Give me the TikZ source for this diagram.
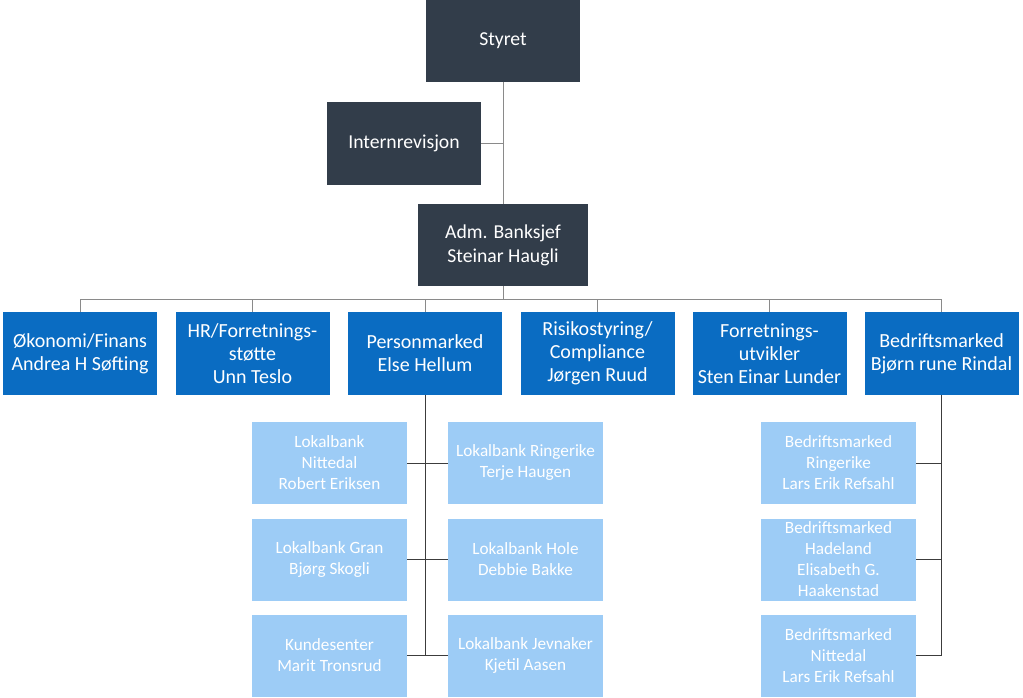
\documentclass[tikz,border=0pt]{standalone}
\usepackage{fontspec}
\setmainfont{Carlito}
\definecolor{darkbox}{HTML}{323D4A}
\definecolor{midbox}{HTML}{0A6CC2}
\definecolor{lightbox}{HTML}{9DCCF6}
\definecolor{lineg}{HTML}{8A8A8A}
\definecolor{lined}{HTML}{3C3C3C}
\tikzset{
  darkn/.style={fill=darkbox, text=white, draw=none, inner sep=0pt, align=center,
    font=\fontsize{19.7}{24}\selectfont, minimum height=82pt},
  midn/.style={fill=midbox, text=white, draw=none, inner sep=0pt, align=center,
    font=\fontsize{20}{23}\selectfont, minimum width=154pt, minimum height=83pt},
  lightn/.style={fill=lightbox, text=white, draw=none, inner sep=0pt, align=center,
    font=\fontsize{17.2}{21}\selectfont, minimum width=155pt, minimum height=82pt},
  conng/.style={draw=lineg, line width=0.9pt},
  connd/.style={draw=lined, line width=0.9pt}
}
\begin{document}
\begin{tikzpicture}[x=1pt,y=-1pt]
\useasboundingbox[fill=white] (0,0) rectangle (1023,698);
% top
\node[darkn, minimum width=154pt] (styret) at (503,41) {Styret};
\node[darkn, minimum width=154pt, minimum height=83pt] (intern) at (404,143.5) {Internrevisjon};
\node[darkn, minimum width=170pt] (adm) at (503,245) {Adm. Banksjef\\Steinar Haugli};
% row 2
\node[midn] (oko) at (80,353.5) {Økonomi/Finans\\Andrea H Søfting};
\node[midn] (hr) at (252.5,353.5) {HR/Forretnings-\\støtte\\Unn Teslo};
\node[midn] (pm) at (425,353.5) {Personmarked\\Else Hellum};
\node[midn] (ris) at (597.5,353.5) {Risikostyring/\\Compliance\\Jørgen Ruud};
\node[midn] (fu) at (769.5,353.5) {Forretnings-\\utvikler\\Sten Einar Lunder};
\node[midn] (bm) at (941.5,353.5) {Bedriftsmarked\\Bjørn rune Rindal};
% personmarked children
\node[lightn] (lb1) at (329.5,463) {Lokalbank\\Nittedal\\Robert Eriksen};
\node[lightn] (lb2) at (329.5,559.5) {Lokalbank Gran\\Bjørg Skogli};
\node[lightn] (lb3) at (329.5,655.5) {Kundesenter\\Marit Tronsrud};
\node[lightn] (lr1) at (525.5,463) {Lokalbank Ringerike\\Terje Haugen};
\node[lightn] (lr2) at (525.5,559.5) {Lokalbank Hole\\Debbie Bakke};
\node[lightn] (lr3) at (525.5,655.5) {Lokalbank Jevnaker\\Kjetil Aasen};
% bedriftsmarked children
\node[lightn] (b1) at (838.5,463) {Bedriftsmarked\\Ringerike\\Lars Erik Refsahl};
\node[lightn] (b2) at (838.5,559.5) {Bedriftsmarked\\Hadeland\\Elisabeth G.\\Haakenstad};
\node[lightn] (b3) at (838.5,655.5) {Bedriftsmarked\\Nittedal\\Lars Erik Refsahl};
% connectors top
\draw[conng] (styret) -- (adm);
\draw[conng] (intern.east) -- (intern.east -| styret.south);
\coordinate (bus) at (503,299);
\draw[conng] (adm) -- (bus);
\foreach \n in {oko,hr,pm,ris,fu,bm} \draw[conng] (\n.north) |- (bus);
% personmarked spine
\draw[connd] (pm.south) -- (pm.south |- lb3.east);
\draw[connd] (lb1.east) -- (lr1.west);
\draw[connd] (lb2.east) -- (lr2.west);
\draw[connd] (lb3.east) -- (lr3.west);
% bedriftsmarked spine
\draw[connd] (bm.south) |- (b3.east);
\draw[connd] (b1.east) -- (b1.east -| bm.south);
\draw[connd] (b2.east) -- (b2.east -| bm.south);
\end{tikzpicture}
\end{document}
